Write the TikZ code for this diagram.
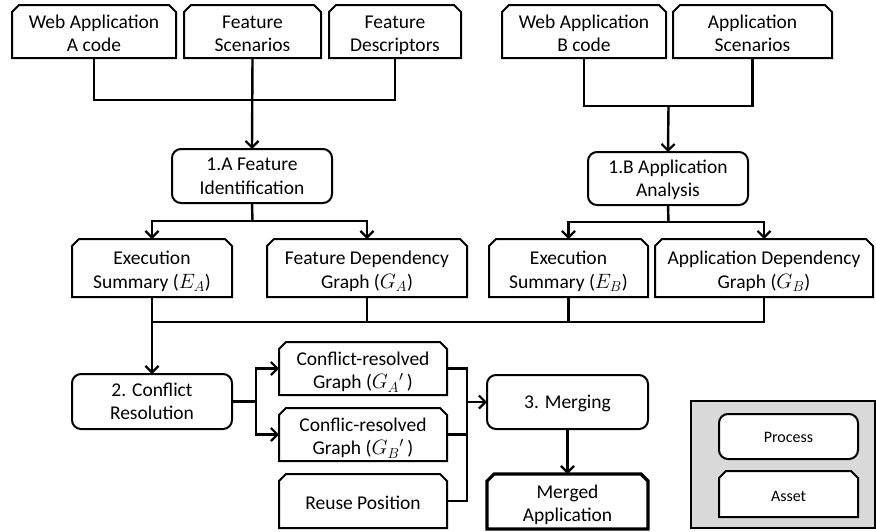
\documentclass[tikz,border=0pt]{standalone}
\usepackage{fontspec}
\setmainfont{Carlito}
\usetikzlibrary{arrows.meta}
\newcommand\mkasset[7][]{%
  \draw[boxline,#1] (#3,#6) -- (#3,#4+7) -- (#3+7,#4) -- (#5-7,#4) -- (#5,#4+7) -- (#5,#6) -- cycle;
  \node[inner sep=0pt, minimum width={#5-#3}, minimum height={#6-#4}] (#2) at ({(#3+#5)/2},{(#4+#6)/2}) {};
  \node (#2-t) at ([yshift=-4pt]#2.center) {\strut#7\strut};
}
\newcommand\mkproc[7][]{%
  \node[proc, minimum width={#5-#3}, minimum height={#6-#4}, #1] (#2) at ({(#3+#5)/2},{(#4+#6)/2}) {};
  \node[#1] (#2-t) at ([yshift=-2pt]#2.center) {\strut#7\strut};
}
\begin{document}
\begin{tikzpicture}[x=1pt,y=-1pt,
  every node/.style={font=\fontsize{19.5}{23.5}\selectfont, align=center, inner sep=0pt, outer sep=0pt},
  boxline/.style={draw=black, line width=2pt, fill=white, line join=miter},
  proc/.style={draw=black, line width=2pt, fill=white, rounded corners=9pt, rectangle},
  conn/.style={draw=black, line width=2.4pt, line join=miter},
  arr/.style={conn, -{Straight Barb[length=6.5pt,width=13pt,line width=2.2pt]}},
  small/.style={font=\fontsize{16}{19}\selectfont}
]
\useasboundingbox (0,0) rectangle (876,531);

% top row assets
\mkasset{wa}{12}{5}{176}{58}{Web Application\\A code}
\mkasset{fs}{184}{5}{321}{58}{Feature\\Scenarios}
\mkasset{fd}{329}{5}{461}{58}{Feature\\Descriptors}
\mkasset{wb}{502}{5}{666}{58}{Web Application\\B code}
\mkasset{as}{673}{5}{832}{58}{Application\\Scenarios}

% processes 1
\mkproc{fi}{172}{149}{332}{203}{1.A Feature\\Identification}
\mkproc{aa}{588}{152}{748}{205}{1.B Application\\Analysis}

% second row assets
\mkasset{esa}{72}{239}{232}{297}{Execution\\Summary ($E_A$)}
\mkasset{fga}{267}{239}{467}{297}{Feature Dependency\\Graph ($G_A$)}
\mkasset{esb}{489}{239}{648}{297}{Execution\\Summary ($E_B$)}
\mkasset{gb}{655}{239}{873}{297}{Application Dependency\\Graph ($G_B$)}

% process 2
\mkproc{cr}{72}{374}{232}{429}{2. Conflict\\Resolution}

% conflict-resolved assets
\mkasset{cga}{279}{342}{447}{395}{Conflict-resolved\\Graph ($G_A{}'\,$)}
\mkasset{cgb}{279}{408}{447}{461}{Conflic-resolved\\Graph ($G_B{}'\,$)}
\mkasset{rp}{279}{474}{447}{528}{Reuse Position}

% process 3
\mkproc{mg}{487}{375}{648}{429}{3. Merging}
\mkasset[line width=3.2pt]{ma}{487}{474}{648}{529}{Merged\\Application}

% legend
\node[draw=black, line width=1.6pt, fill=black!15, minimum width=184, minimum height=127] (leg) at (783,464.5) {};
\mkproc[small]{lp}{719}{414}{858}{459}{Process}
\draw[boxline] (719,517) -- (719,478) -- (726,471) -- (851,471) -- (858,478) -- (858,517) -- cycle;
\node[small, minimum width=139, minimum height=46] (la) at (788.5,494) {};
\node[small] (la-t) at ([yshift=-3.5pt]la.center) {\strut Asset\strut};

% connectors top-left
\coordinate (j1) at (252.5,100);
\draw[conn] (wa.south) |- (j1) -| (fd.south);
\draw[arr] (fs.south) -- (fi.north);
% top-right
\coordinate (j2) at (668.5,106);
\draw[conn] (wb.south) |- (j2) -| (as.south);
\draw[arr] (j2) -- (aa.north);
% from 1.A
\coordinate (j3) at (252.5,221);
\draw[conn] (fi.south) -- (j3);
\draw[arr] (j3) -| (esa.north);
\draw[arr] (j3) -| (fga.north);
% from 1.B
\coordinate (j4) at (668.5,222);
\draw[conn] (aa.south) -- (j4);
\draw[arr] (j4) -| (esb.north);
\draw[arr] (j4) -| (gb.north);
% join to conflict resolution
\coordinate (j5) at (152,322);
\draw[conn] (esa.south) |- (gb.south |- j5) -- (gb.south);
\draw[conn] (fga.south) -- (fga.south |- j5);
\draw[conn] (esb.south) -- (esb.south |- j5);
\draw[arr] (j5) -- (cr.north);
% from conflict resolution
\coordinate (j6) at (256,401.5);
\draw[conn] (cr.east) -- (j6);
\draw[arr] (j6) |- (cga.west);
\draw[arr] (j6) |- (cgb.west);
% into merging
\coordinate (j7) at (467,402);
\draw[conn] (cga.east) -| (j7 |- rp.east) -- (rp.east);
\draw[conn] (cgb.east) -- (cgb.east -| j7);
\draw[arr] (j7) -- (mg.west);
\draw[arr] (mg.south) -- (ma.north);
\end{tikzpicture}
\end{document}
